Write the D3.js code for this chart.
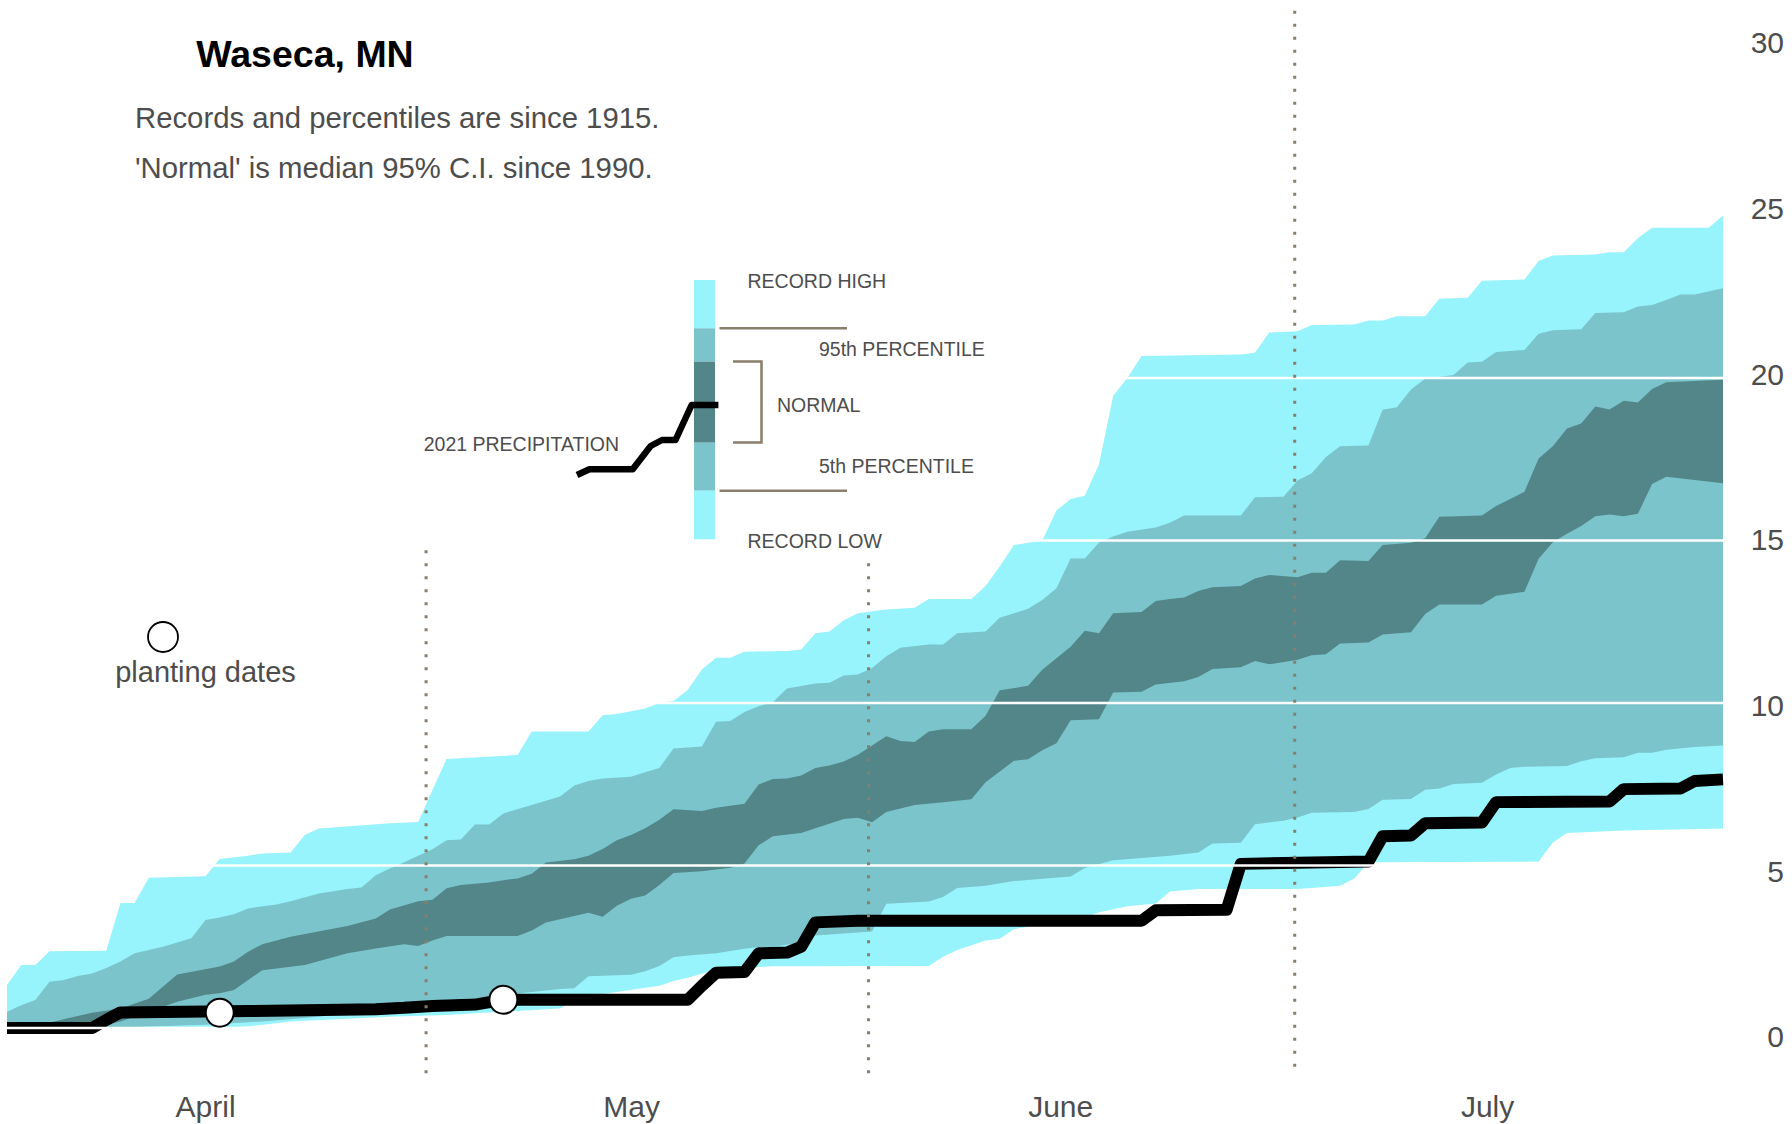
<!DOCTYPE html>
<html>
<head>
<meta charset="utf-8">
<script src="https://cdn.jsdelivr.net/npm/d3@7"></script>
<style>
  html, body { margin: 0; padding: 0; background: #ffffff; }
  svg { display: block; font-family: "Liberation Sans", Arial, sans-serif; }
</style>
</head>
<body>
<svg id="chart" width="1792" height="1124"></svg>
<script>
// ---------- DATA (day index: 0 = April 1, values = cumulative inches) ----------
const title = "Waseca, MN";
const subtitleLines = ["Records and percentiles are since 1915.", "'Normal' is median 95% C.I. since 1990."];

const monthLabels = ["April", "May", "June", "July"];
const monthLabelDays = [14, 44.05, 74.3, 104.4];
const monthBoundaryDays = [29.55, 60.75, 90.8];
const monthBoundaryTops = [14.7, 14.3, 31.3];
const monthBoundaryBottom = -1.5;

const yTicks = [0, 5, 10, 15, 20, 25, 30];
const gridValues = [0, 5, 10, 15, 20];

const recordHigh = [[0,1.32],[1,1.94],[2,1.94],[3,2.36],[7,2.38],[8,3.85],[9,3.85],[10,4.62],[14,4.67],[15,5.2],[17,5.3],[18,5.37],[20,5.4],[21,5.94],[22,6.14],[27,6.3],[29,6.34],[30,7.32],[31,8.28],[36,8.4],[37,9.12],[41,9.12],[42,9.62],[43,9.66],[45,9.83],[46,10.0],[47,10.06],[48,10.4],[49,11.03],[50,11.39],[51,11.39],[52,11.58],[55,11.6],[56,11.65],[57,12.15],[58,12.2],[59,12.55],[60,12.76],[62,12.88],[64,12.93],[65,13.2],[68,13.2],[69,13.6],[70,14.2],[71,14.86],[73,15.0],[74,15.92],[75,16.28],[76,16.38],[77,17.35],[78,19.45],[79,20.0],[80,20.68],[87,20.72],[88,20.78],[89,21.4],[91,21.44],[92,21.63],[95,21.65],[96,21.77],[97,21.77],[98,21.9],[100,21.9],[101,22.44],[103,22.47],[104,22.99],[107,23.03],[108,23.6],[109,23.77],[112,23.8],[113,23.87],[114,23.87],[115,24.3],[116,24.62],[120,24.62],[121,25.0]];

const pct95 = [[0,0.5],[1,0.7],[2,0.86],[3,1.42],[4,1.48],[5,1.6],[6,1.68],[7,1.85],[8,2.05],[9,2.3],[11,2.5],[13,2.76],[14,3.32],[15,3.4],[16,3.5],[17,3.68],[19,3.8],[20,3.9],[22,4.14],[24,4.28],[25,4.32],[26,4.7],[27,4.91],[28,5.1],[29,5.3],[30,5.5],[31,5.78],[32,5.8],[33,6.26],[34,6.26],[35,6.6],[37,6.86],[39,7.12],[40,7.46],[41,7.6],[42,7.68],[44,7.73],[45,7.87],[46,8.0],[47,8.6],[49,8.66],[50,9.42],[51,9.45],[52,9.72],[53,9.9],[54,10.02],[55,10.45],[57,10.6],[58,10.62],[59,10.85],[60,10.88],[61,11.08],[62,11.44],[63,11.7],[65,11.8],[66,11.8],[67,12.15],[69,12.2],[70,12.62],[72,12.9],[73,13.17],[74,13.53],[75,14.45],[76,14.45],[77,14.94],[78,15.12],[79,15.27],[81,15.4],[82,15.55],[83,15.77],[87,15.77],[88,16.33],[90,16.35],[91,16.85],[92,17.07],[93,17.57],[94,17.9],[96,17.92],[97,19.02],[98,19.1],[99,19.65],[100,19.98],[102,20.09],[103,20.48],[104,20.5],[105,20.8],[107,20.86],[108,21.36],[109,21.47],[111,21.5],[112,22.0],[114,22.02],[115,22.2],[116,22.25],[117,22.4],[118,22.57],[119,22.57],[121,22.76]];

const normalHigh = [[0,0],[3,0.17],[6,0.47],[8,0.6],[10,0.9],[12,1.65],[15,1.89],[16,2.05],[17,2.35],[18,2.58],[20,2.81],[24,3.14],[26,3.37],[27,3.65],[29,3.9],[30,3.95],[31,4.3],[32,4.4],[34,4.48],[35,4.55],[36,4.6],[37,4.75],[38,5.09],[40,5.19],[41,5.3],[42,5.51],[43,5.78],[44,5.94],[45,6.15],[46,6.41],[47,6.73],[49,6.68],[50,6.78],[52,6.9],[53,7.49],[54,7.66],[55,7.68],[56,7.77],[57,8.0],[58,8.08],[59,8.2],[60,8.41],[61,8.69],[62,8.98],[63,8.83],[64,8.8],[65,9.12],[66,9.19],[68,9.19],[69,9.61],[70,10.39],[72,10.53],[73,11.02],[74,11.38],[75,11.73],[76,12.22],[77,12.15],[78,12.76],[80,12.8],[81,13.14],[82,13.2],[83,13.25],[84,13.45],[85,13.56],[87,13.6],[88,13.83],[89,13.94],[91,13.87],[92,14.01],[93,14.01],[94,14.39],[96,14.37],[97,14.86],[99,14.93],[100,15.07],[101,15.73],[104,15.77],[105,16.06],[106,16.28],[107,16.5],[108,17.52],[109,17.9],[110,18.45],[111,18.6],[112,19.12],[113,19.03],[114,19.3],[115,19.25],[116,19.66],[117,19.87],[121,19.95]];

const normalLow = [[0,0],[6,0],[8,0.2],[10,0.5],[12,0.81],[14,1.02],[15,1.07],[16,1.17],[18,1.78],[21,1.94],[24,2.3],[26,2.45],[28,2.58],[29,2.52],[30,2.69],[31,2.83],[36,2.83],[37,3.0],[38,3.25],[40,3.45],[41,3.55],[42,3.42],[43,3.76],[44,3.98],[45,4.08],[46,4.4],[47,4.77],[49,4.82],[51,4.93],[52,5.06],[53,5.62],[54,5.9],[56,6.0],[57,6.15],[59,6.43],[60,6.47],[61,6.33],[62,6.65],[64,6.86],[66,6.95],[68,7.04],[69,7.56],[71,8.22],[72,8.27],[73,8.55],[74,8.76],[75,9.47],[77,9.5],[78,10.32],[80,10.35],[81,10.57],[83,10.67],[84,10.8],[85,11.05],[87,11.1],[88,11.29],[89,11.19],[91,11.33],[92,11.47],[93,11.5],[94,11.83],[96,11.86],[97,12.11],[99,12.18],[100,12.74],[101,13.03],[104,13.03],[105,13.3],[107,13.42],[108,14.44],[109,14.95],[110,15.21],[111,15.45],[112,15.75],[113,15.8],[114,15.75],[115,15.82],[116,16.74],[117,16.96],[119,16.86],[121,16.76]];

const pct5 = [[0,0],[7,0],[10,0.05],[14,0.1],[18,0.2],[22,0.35],[25,0.55],[27,0.7],[28,0.8],[30,0.85],[34,0.95],[36,1.06],[39,1.2],[40,1.22],[41,1.59],[44,1.64],[45,1.75],[46,1.91],[47,2.18],[48,2.23],[50,2.3],[52,2.44],[53,2.49],[54,2.5],[56,2.62],[57,2.85],[61,2.97],[62,3.82],[65,3.89],[66,4.03],[67,4.31],[69,4.38],[71,4.52],[73,4.59],[75,4.66],[76,4.92],[78,5.16],[80,5.23],[82,5.3],[84,5.4],[85,5.68],[87,5.7],[88,6.27],[90,6.38],[91,6.48],[92,6.62],[95,6.65],[96,6.74],[97,7.02],[99,7.05],[100,7.33],[101,7.37],[102,7.51],[104,7.55],[105,7.8],[106,8.0],[107,8.04],[110,8.06],[111,8.21],[112,8.3],[114,8.33],[115,8.47],[116,8.47],[117,8.56],[119,8.65],[121,8.69]];

const recordLow = [[0,0],[14,0],[17,0.05],[20,0.2],[27,0.35],[31,0.4],[39,0.6],[40,0.85],[42,1.05],[46,1.3],[47,1.45],[48,1.55],[50,1.8],[54,1.9],[65,1.91],[66,2.19],[67,2.4],[69,2.69],[70,2.75],[71,3.04],[76,3.4],[77,3.56],[79,3.75],[81,3.83],[82,4.2],[84,4.28],[91,4.28],[94,4.38],[95,4.6],[96,5.1],[108,5.12],[109,5.71],[110,6.0],[114,6.08],[121,6.14]];

const precip2021 = [[0,0],[6,0],[7,0.25],[8,0.48],[17,0.52],[26,0.58],[28,0.62],[30,0.68],[33,0.72],[35,0.87],[48,0.87],[49,1.3],[50,1.7],[52,1.72],[53,2.3],[55,2.32],[56,2.5],[57,3.25],[60,3.3],[80,3.3],[81,3.62],[86,3.64],[87,5.05],[96,5.12],[97,5.9],[99,5.92],[100,6.3],[104,6.32],[105,6.95],[113,6.97],[114,7.35],[118,7.37],[119,7.6],[121,7.65]];

const plantingDays = [15, 35];
const plantingValues = [0.47, 0.87];

const legendLabels = ["RECORD HIGH", "95th PERCENTILE", "NORMAL", "5th PERCENTILE", "RECORD LOW", "2021 PRECIPITATION"];

// ---------- STYLE ----------
const C_RECORD = "#97F3FC";
const C_PCT = "#7BC4CB";
const C_NORMAL = "#528689";
const C_GUIDE = "#8B7D6B";
const C_TEXT = "#4D4D4D";

// ---------- SCALES ----------
const svg = d3.select("#chart");
const x = d3.scaleLinear().domain([0, 121]).range([7, 1723]);
const y = d3.scaleLinear().domain([0, 30]).range([1028, 53]);
const yLab = d3.scaleLinear().domain([0, 30]).range([1036, 42]);

const lineGen = d3.line().x(d => x(d[0])).y(d => y(d[1]));
function bandPath(upper, lower) {
  const pts = upper.concat(lower.slice().reverse());
  return lineGen(pts) + "Z";
}

// ---------- BANDS ----------
svg.append("path").attr("d", bandPath(recordHigh, recordLow)).attr("fill", C_RECORD);
svg.append("path").attr("d", bandPath(pct95, pct5)).attr("fill", C_PCT);
svg.append("path").attr("d", bandPath(normalHigh, normalLow)).attr("fill", C_NORMAL);

// ---------- 2021 precipitation ----------
svg.append("path").attr("d", lineGen(precip2021))
  .attr("fill", "none").attr("stroke", "#000").attr("stroke-width", 12)
  .attr("stroke-linejoin", "round");

// ---------- white gridlines ----------
svg.append("g").selectAll("line").data(gridValues).join("line")
  .attr("x1", x(0)).attr("x2", x(121))
  .attr("y1", d => y(d)).attr("y2", d => y(d))
  .attr("stroke", "#fff").attr("stroke-width", 2.5);

// ---------- month boundary dotted lines ----------
svg.append("g").selectAll("line").data(monthBoundaryDays).join("line")
  .attr("x1", d => x(d)).attr("x2", d => x(d))
  .attr("y1", (d, i) => y(monthBoundaryTops[i])).attr("y2", y(monthBoundaryBottom))
  .attr("stroke", C_GUIDE).attr("stroke-width", 3)
  .attr("stroke-dasharray", "3,10");

// ---------- planting dates ----------
svg.append("g").selectAll("circle").data(plantingDays).join("circle")
  .attr("cx", d => x(d)).attr("cy", (d, i) => y(plantingValues[i]))
  .attr("r", 14).attr("fill", "#fff").attr("stroke", "#000").attr("stroke-width", 2);

// ---------- axes ----------
const yAxis = d3.axisRight(yLab).tickValues(yTicks).tickSize(0).tickPadding(0).tickFormat(d3.format("d"));
const gy = svg.append("g").attr("transform", "translate(1784,0)").call(yAxis);
gy.select(".domain").remove();
gy.selectAll("text").attr("text-anchor", "end").attr("x", 0).attr("dy", "0.36em")
  .attr("fill", C_TEXT).style("font-size", "30px").style("font-family", "'Liberation Sans', Arial, sans-serif");

const xMonth = d3.scaleOrdinal().domain(monthLabels).range(monthLabelDays.map(d => x(d)));
svg.append("g").selectAll("text").data(monthLabels).join("text")
  .attr("x", d => xMonth(d)).attr("y", 1117)
  .attr("text-anchor", "middle").attr("fill", C_TEXT)
  .style("font-size", "30px").text(d => d);

// ---------- titles ----------
svg.append("text").attr("x", 305).attr("y", 67).attr("text-anchor", "middle")
  .style("font-size", "37.5px").style("font-weight", "bold").attr("fill", "#000").text(title);
svg.append("g").selectAll("text").data(subtitleLines).join("text")
  .attr("x", 135).attr("y", (d, i) => 128 + i * 49.5)
  .attr("fill", C_TEXT).style("font-size", "29.3px").text(d => d);

// planting legend
svg.append("circle").attr("cx", 163).attr("cy", 637).attr("r", 15)
  .attr("fill", "#fff").attr("stroke", "#000").attr("stroke-width", 1.8);
svg.append("text").attr("x", 205.5).attr("y", 682).attr("text-anchor", "middle")
  .attr("fill", C_TEXT).style("font-size", "29px").text("planting dates");

// ---------- legend ----------
const lg = svg.append("g");
const barX = 694, barW = 21;
const segs = [[280, 328.3, C_RECORD], [328.3, 361.7, C_PCT], [361.7, 442.7, C_NORMAL], [442.7, 490.7, C_PCT], [490.7, 539.3, C_RECORD]];
lg.selectAll("rect").data(segs).join("rect")
  .attr("x", barX).attr("width", barW)
  .attr("y", d => d[0]).attr("height", d => d[1] - d[0]).attr("fill", d => d[2]);

lg.append("line").attr("x1", 719.5).attr("x2", 847).attr("y1", 328.3).attr("y2", 328.3)
  .attr("stroke", C_GUIDE).attr("stroke-width", 2.5);
lg.append("line").attr("x1", 719.5).attr("x2", 847).attr("y1", 490.7).attr("y2", 490.7)
  .attr("stroke", C_GUIDE).attr("stroke-width", 2.5);
lg.append("path").attr("d", "M733,361.5H761.5V442.5H733")
  .attr("fill", "none").attr("stroke", C_GUIDE).attr("stroke-width", 2.5);

const legendLine = [[577,475],[589.4,469.3],[632.7,469.3],[650.7,446],[662,440],[675.5,440],[691.6,405],[718.4,405]];
lg.append("path").attr("d", d3.line()(legendLine))
  .attr("fill", "none").attr("stroke", "#000").attr("stroke-width", 6.5).attr("stroke-linejoin", "round");

const legendPos = [[747.5, 288.3], [819, 356], [777, 411.7], [819, 473.3], [747.5, 548.3], [423.7, 450.7]];
lg.selectAll("text").data(legendLabels).join("text")
  .attr("x", (d, i) => legendPos[i][0]).attr("y", (d, i) => legendPos[i][1])
  .attr("fill", C_TEXT).style("font-size", "19.5px").text(d => d);
</script>
</body>
</html>
